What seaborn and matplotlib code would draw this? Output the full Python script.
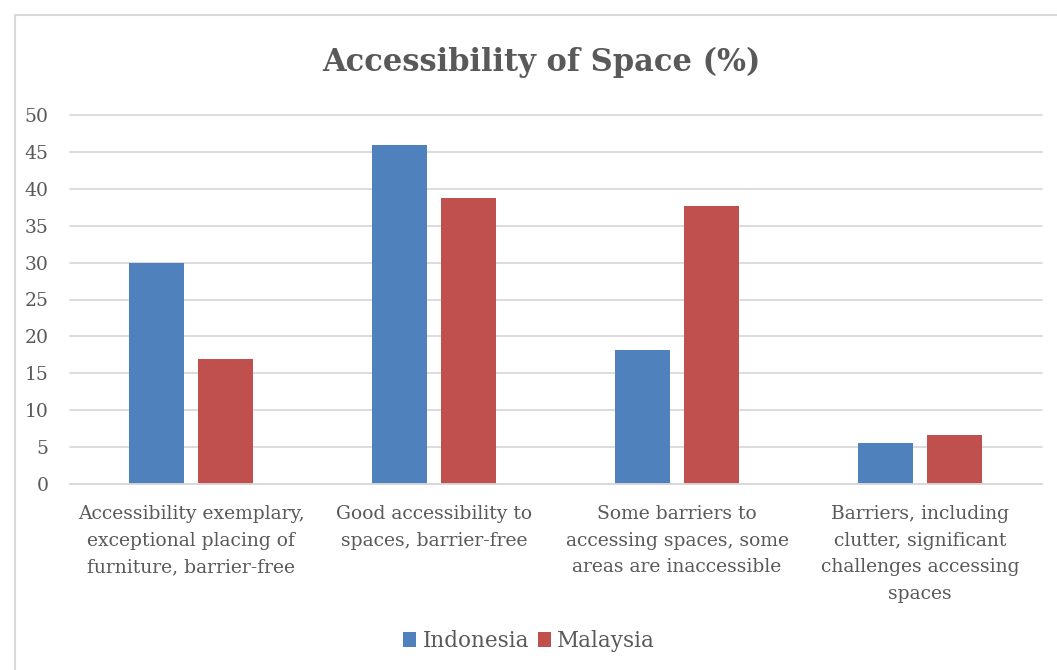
import matplotlib
matplotlib.use("Agg")
import matplotlib.pyplot as plt
from matplotlib.lines import Line2D
import seaborn as sns
import pandas as pd

categories = [
    "Accessibility exemplary,\nexceptional placing of\nfurniture, barrier-free",
    "Good accessibility to\nspaces, barrier-free",
    "Some barriers to\naccessing spaces, some\nareas are inaccessible",
    "Barriers, including\nclutter, significant\nchallenges accessing\nspaces",
]
countries = ["Indonesia", "Malaysia"]
indonesia = [30.0, 46.0, 18.2, 5.6]
malaysia = [17.0, 38.7, 37.7, 6.6]
y_ticks = list(range(0, 55, 5))
title = "Accessibility of Space (%)"

df = pd.DataFrame({
    "category": categories * 2,
    "country": [countries[0]] * 4 + [countries[1]] * 4,
    "value": indonesia + malaysia,
})

sns.set_theme(style="white")
plt.rcParams["font.family"] = ["DejaVu Serif"]
text_color = "#595959"
grid_color = "#d9d9d9"

W, H = 1057, 670
fig = plt.figure(figsize=(W / 100, H / 100), dpi=100)
ax = fig.add_axes([69.5 / W, 1 - 484 / H, (1041.5 - 69.5) / W, (484 - 115) / H])

sns.barplot(
    data=df, x="category", y="value", hue="country",
    order=categories, hue_order=countries,
    palette=["#4F81BD", "#C0504D"], saturation=1,
    width=0.568, gap=0.203, linewidth=0, ax=ax, legend=True,
)

ax.set_xlim(-0.5, 3.5)
ax.set_ylim(0, 50)
ax.set_yticks(y_ticks)
ax.set_yticklabels([str(t) for t in y_ticks])
ax.yaxis.grid(True, color=grid_color, linewidth=1.3)
for gl in ax.get_ygridlines():
    gl.set_clip_on(False)
ax.set_axisbelow(True)
for side in ["left", "right", "top"]:
    ax.spines[side].set_visible(False)
ax.spines["bottom"].set_color(grid_color)
ax.spines["bottom"].set_linewidth(1.3)
ax.tick_params(axis="both", length=0, colors=text_color, labelsize=13.5)
ax.tick_params(axis="y", pad=15)
ax.tick_params(axis="x", pad=15)
for lab in ax.get_xticklabels():
    lab.set_linespacing(1.62)
    lab.set_verticalalignment("top")
ax.set_xlabel("")
ax.set_ylabel("")

fig.text(541 / W, 1 - 62 / H, title, ha="center", va="center",
         fontsize=22, fontweight="bold", color=text_color)

leg = ax.legend(loc="center", bbox_to_anchor=(529 / W, 1 - 641 / H), bbox_transform=fig.transFigure,
                ncol=2, frameon=False, fontsize=15.5, handlelength=0.6, handleheight=0.7,
                handletextpad=0.3, columnspacing=0.4)
for t in leg.get_texts():
    t.set_color(text_color)

# outer chart frame
fig.add_artist(Line2D([15 / W, 15 / W], [1 - 15 / H, 0], color=grid_color, linewidth=1.5))
fig.add_artist(Line2D([15 / W, 1], [1 - 15 / H, 1 - 15 / H], color=grid_color, linewidth=1.5))

fig.savefig("out.png", dpi=100, facecolor="white")
